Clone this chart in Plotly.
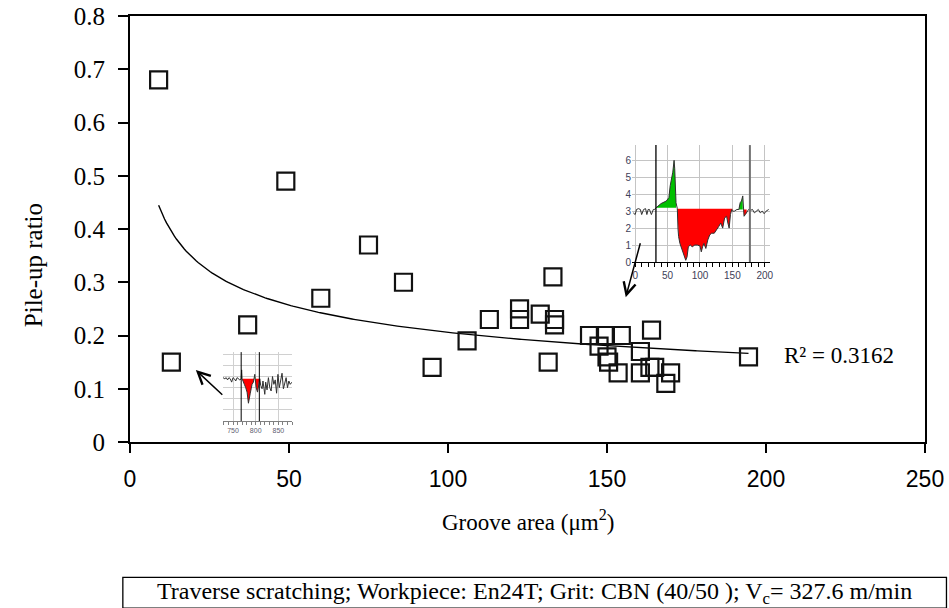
import numpy as np
import plotly.graph_objects as go

# ---- main scatter: groove area vs pile-up ratio ----
groove_area = [9, 13, 37, 49, 60, 75, 86, 95, 106, 113, 122.5, 122.5, 129, 131.5,
               133, 133.5, 133.5, 144.5, 147.5, 149.5, 150, 150.5, 153.5, 154.5,
               160.5, 160.5, 163.5, 164, 165, 168.5, 170, 194.5]
pileup_ratio = [0.68, 0.15, 0.22, 0.49, 0.27, 0.37, 0.30, 0.14, 0.19, 0.23, 0.25,
                0.23, 0.24, 0.15, 0.31, 0.23, 0.22, 0.20, 0.18, 0.20, 0.16, 0.15,
                0.13, 0.20, 0.17, 0.13, 0.14, 0.21, 0.14, 0.11, 0.13, 0.16]

x_ticks = [0, 50, 100, 150, 200, 250]
y_ticks = [0, 0.1, 0.2, 0.3, 0.4, 0.5, 0.6, 0.7, 0.8]
y_tick_text = ["0", "0.1", "0.2", "0.3", "0.4", "0.5", "0.6", "0.7", "0.8"]
r2_text = "R² = 0.3162"
caption = "Traverse scratching; Workpiece: En24T; Grit: CBN (40/50 ); V<sub>c</sub>= 327.6 m/min"

# ---- inset profile (large inset) ----
prof1_x = [-3, 0, 2, 5, 8, 10, 13, 16, 18, 20, 22, 25, 28, 30, 32, 40, 48, 52, 54, 56,
           58, 60, 61, 63, 65, 66, 67, 69, 72, 75, 78, 80, 82, 85, 88, 92, 96, 100, 102, 104,
           106, 109, 112, 115, 118, 122, 126, 129, 132, 135, 138, 141, 143, 145, 147, 149, 150, 153, 157, 160,
           162, 164, 166, 167, 168, 170, 172, 175, 178, 181, 184, 187, 190, 193, 196, 199, 202, 206]
prof1_y = [2.9, 2.8, 3.1, 3.15, 3.1, 2.8, 3.1, 3.15, 2.8, 3.1, 3.1, 2.8, 3.1, 3.1, 3.2, 3.45, 3.6, 3.8, 4.5, 4.9,
           5.3, 6.0, 5.5, 3.5, 3.15, 2.0, 1.5, 1.1, 0.8, 0.5, 0.1, 0.3, 0.9, 1.0, 0.9, 1.0, 1.0, 0.95, 0.6, 0.9,
           1.1, 0.8, 1.3, 1.6, 1.7, 1.7, 1.9, 2.1, 2.3, 2.0, 2.6, 2.7, 2.3, 2.0, 2.8, 3.1, 3.0, 3.0, 3.1, 3.1,
           3.5, 3.6, 3.9, 3.2, 2.7, 2.8, 2.9, 3.1, 3.05, 3.1, 2.9, 3.0, 3.1, 2.9, 3.0, 2.85, 3.0, 3.1]
# (start, end, reference level, colour) of the shaded pile-up / groove regions
fills1 = [(32, 63, 3.2, "#00c000"), (65, 150, 3.15, "#ff0000"),
          (160, 166, 3.1, "#00c000"), (167, 172, 3.1, "#ff0000")]
marks1 = [(32, "black"), (177, "#707070")]

# ---- inset profile (small inset) ----
prof2_x = [728, 732, 735, 738, 741, 744, 747, 750, 753, 756, 759, 762, 765, 768, 769, 770, 772, 775, 778, 781,
           784, 786, 788, 790, 792, 795, 797, 798, 799, 801, 804, 807, 809, 811, 814, 816, 818, 820, 822, 825,
           828, 831, 834, 837, 840, 843, 846, 849, 852, 855, 858, 861, 864, 867, 870, 873, 876, 880]
prof2_y = [3.9, 3.8, 3.9, 3.7, 3.9, 3.8, 3.5, 3.9, 3.8, 3.6, 3.9, 3.8, 3.7, 3.8, 4.6, 3.8, 3.5, 3.3, 3.0, 2.6,
           1.6, 2.2, 2.5, 2.9, 3.3, 3.5, 3.8, 4.2, 3.8, 3.0, 2.6, 3.3, 3.8, 3.2, 2.9, 3.6, 3.0, 2.4, 3.5, 2.8,
           3.9, 3.0, 2.7, 4.0, 3.3, 3.7, 2.5, 4.2, 3.0, 3.6, 4.3, 2.9, 3.4, 3.9, 3.0, 3.6, 3.3, 3.5]
fills2 = [(768, 770, 3.8, "#00c000"), (770, 797, 3.8, "#ff0000"),
          (797, 799, 3.8, "#00c000"), (799, 808, 3.8, "#ff0000")]
marks2 = [(768, "black"), (808, "black")]

SERIF = "Liberation Serif, Times New Roman, serif"
SANS_N = "Liberation Sans Narrow, Arial Narrow, Liberation Sans, sans-serif"

fig = go.Figure()

# power-law trendline fitted in log space
k, lnc = np.polyfit(np.log(groove_area), np.log(pileup_ratio), 1)
fx = np.linspace(min(groove_area), max(groove_area), 300)
fig.add_trace(go.Scatter(x=fx, y=np.exp(lnc) * fx ** k, mode="lines",
                         line=dict(color="black", width=1.4), hoverinfo="skip"))

fig.add_trace(go.Scatter(x=groove_area, y=pileup_ratio, mode="markers",
                         marker=dict(symbol="square-open", size=17, color="#111111",
                                     line=dict(width=2.2, color="#111111"))))


def add_profile(px, py, fills, xa, ya):
    px = np.asarray(px, float)
    py = np.asarray(py, float)
    for a, b, lvl, col in fills:
        sel = (px >= a) & (px <= b)
        xs = np.concatenate([[a], px[sel], [b]])
        ys = np.concatenate([[lvl], py[sel], [lvl]])
        fig.add_trace(go.Scatter(x=xs, y=ys, mode="lines", fill="toself", fillcolor=col,
                                 line=dict(width=0), xaxis=xa, yaxis=ya, hoverinfo="skip"))
    fig.add_trace(go.Scatter(x=px, y=py, mode="lines", line=dict(color="#303030", width=1),
                             xaxis=xa, yaxis=ya, hoverinfo="skip"))


add_profile(prof1_x, prof1_y, fills1, "x2", "y2")
add_profile(prof2_x, prof2_y, fills2, "x3", "y3")

shapes = []
for xv, col in marks1:
    shapes.append(dict(type="line", xref="x2", yref="y2", x0=xv, x1=xv, y0=0, y1=6.9,
                       line=dict(color=col, width=1.3 if col == "black" else 2)))
for xv, col in marks2:
    shapes.append(dict(type="line", xref="x3", yref="y3", x0=xv, x1=xv, y0=0, y1=6.2,
                       line=dict(color=col, width=1)))

# caption box
shapes.append(dict(type="rect", xref="paper", yref="paper", x0=-0.009, x1=1.027,
                   y0=-0.39, y1=-0.318, line=dict(color="black", width=1.3),
                   fillcolor="white", layer="below"))

annotations = [
    dict(text="Pile-up ratio", xref="paper", yref="paper", x=-0.122, y=0.415, textangle=-90,
         xanchor="center", yanchor="middle",
         showarrow=False, font=dict(family=SERIF, size=25, color="black")),
    dict(text="Groove area (μm<sup>2</sup>)", xref="paper", yref="paper", x=0.5, y=-0.184,
         xanchor="center", yanchor="middle",
         showarrow=False, font=dict(family=SERIF, size=23, color="black")),
    dict(text=r2_text, xref="paper", yref="paper", x=0.82, y=0.202, xanchor="left",
         yanchor="middle",
         showarrow=False, font=dict(family=SERIF, size=23, color="black")),
    dict(text=caption, xref="paper", yref="paper", x=0.509, y=-0.354, showarrow=False,
         xanchor="center", yanchor="middle",
         font=dict(family=SERIF, size=24, color="black")),
    # arrows pointing from the profile insets to their points
    dict(x=155.9, y=0.272, ax=160.6, ay=0.376, axref="x", ayref="y", xref="x", yref="y",
         showarrow=True, arrowhead=5, arrowsize=1.6, arrowwidth=1.5, arrowcolor="black", text=""),
    dict(x=20.7, y=0.135, ax=29.5, ay=0.086, axref="x", ayref="y", xref="x", yref="y",
         showarrow=True, arrowhead=5, arrowsize=1.6, arrowwidth=1.5, arrowcolor="black", text=""),
]

fig.update_layout(
    width=949, height=608, autosize=False,
    margin=dict(l=130, r=24, t=16, b=166, autoexpand=False),
    paper_bgcolor="white", plot_bgcolor="white",
    showlegend=False,
    xaxis=dict(range=[0, 250], tickvals=x_ticks, showgrid=False, zeroline=False,
               showline=True, linecolor="black", linewidth=2, mirror=True,
               ticks="outside", ticklen=9, tickwidth=1.5, tickcolor="black",
               ticklabelstandoff=6, automargin=False,
               tickfont=dict(family=SANS_N, size=23, color="black")),
    yaxis=dict(range=[0, 0.8], tickvals=y_ticks, ticktext=y_tick_text, showgrid=False,
               zeroline=False, automargin=False,
               showline=True, linecolor="black", linewidth=2, mirror=True,
               ticks="outside", ticklen=10, tickwidth=1.5, tickcolor="black",
               ticklabelstandoff=8,
               tickfont=dict(family=SERIF, size=25, color="black")),
    # large inset
    xaxis2=dict(domain=[0.6314, 0.805], anchor="y2", range=[-5, 208], automargin=False,
                tickvals=[0, 50, 100, 150, 200], showgrid=True, gridcolor="#c4c4c4",
                zeroline=False, showline=True, linecolor="black", linewidth=1,
                ticks="outside", ticklen=4, tickcolor="black",
                minor=dict(dtick=10, ticks="outside", ticklen=4, tickcolor="black", showgrid=False),
                tickfont=dict(family="Liberation Sans, Arial", size=10, color="#404058")),
    yaxis2=dict(domain=[0.4225, 0.697], anchor="x2", range=[0, 6.9], automargin=False,
                tickvals=[0, 1, 2, 3, 4, 5, 6], showgrid=True, gridcolor="#c4c4c4",
                zeroline=False, showline=False, ticks="",
                tickfont=dict(family="Liberation Sans, Arial", size=10, color="#404058")),
    # small inset
    xaxis3=dict(domain=[0.117, 0.2038], anchor="y3", range=[728, 880], automargin=False,
                tickvals=[750, 800, 850], showgrid=True, gridcolor="#d0d0d0",
                zeroline=False, showline=True, linecolor="#808080", linewidth=1,
                ticks="outside", ticklen=3, tickcolor="#808080",
                minor=dict(dtick=10, ticks="outside", ticklen=3, tickcolor="#808080", showgrid=False),
                tickfont=dict(family="Liberation Sans, Arial", size=7, color="#606070")),
    yaxis3=dict(domain=[0.0493, 0.211], anchor="x3", range=[0, 6.2], automargin=False,
                tickvals=[1, 2, 3, 4, 5, 6], showgrid=True, gridcolor="#d0d0d0",
                zeroline=False, showline=False, ticks="", showticklabels=False),
    shapes=shapes,
    annotations=annotations,
)

fig.write_html("out.html")
